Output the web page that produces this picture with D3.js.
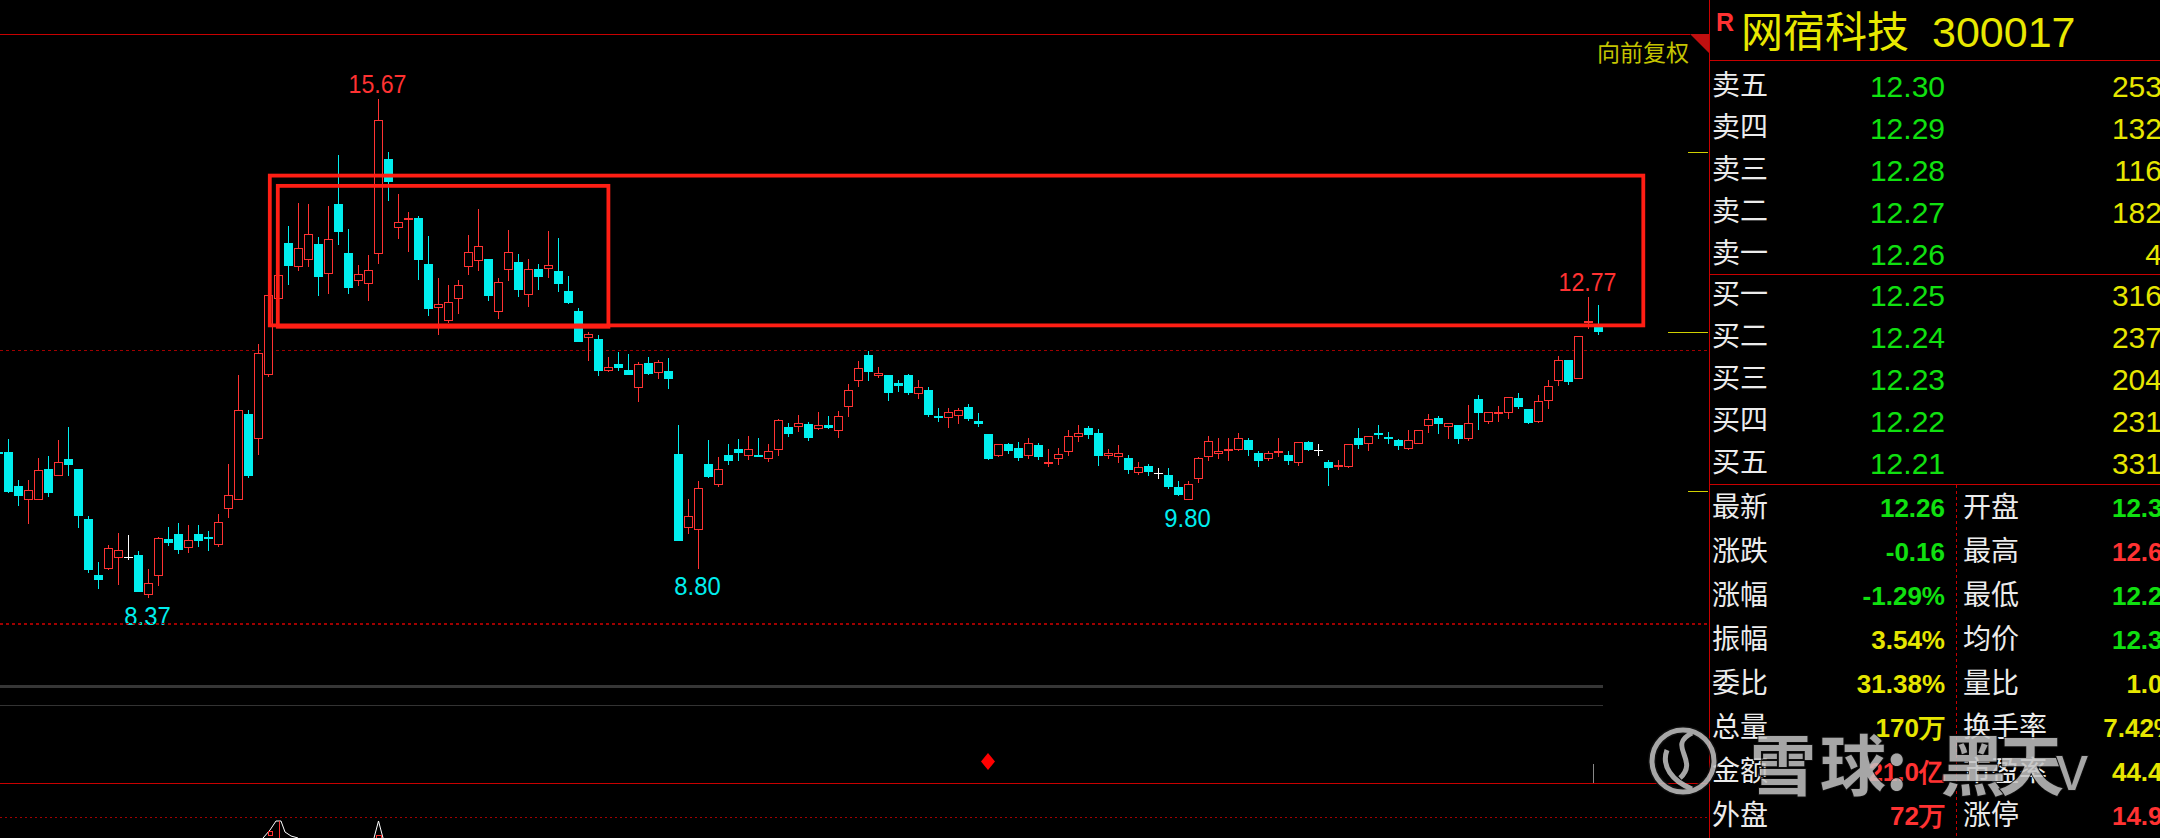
<!DOCTYPE html>
<html><head><meta charset="utf-8">
<script src="https://cdn.jsdelivr.net/npm/d3@7/dist/d3.min.js"></script>
<style>html,body{margin:0;padding:0;background:#000;overflow:hidden}</style>
</head><body>
<script>
// ---------- DATA ----------
const firstIndex = -1; // first (partially visible) candle index
const openP = [10.51,10.51,10.01,9.81,9.81,10.26,10.16,10.41,10.26,9.53,8.71,
8.80,8.96,8.97,9.00,8.42,8.70,9.24,9.31,9.10,9.31,
9.27,9.15,9.67,9.81,11.06,10.70,11.63,12.75,13.56,13.22,
13.31,13.55,13.11,14.13,13.42,13.01,12.96,13.41,14.79,13.78,
13.90,13.93,13.26,12.62,12.43,12.75,13.22,13.30,13.33,12.55,
13.17,13.28,12.80,13.18,13.18,13.15,12.87,12.57,12.17,12.16,
11.70,11.80,11.71,11.44,11.81,11.66,11.69,10.48,9.40,9.37,
10.33,10.02,10.47,10.55,10.45,10.47,10.41,10.54,10.87,10.88,
10.92,10.85,10.90,10.81,11.17,11.55,11.93,11.62,11.64,11.52,
11.64,11.36,11.42,11.04,11.01,11.04,11.17,10.96,10.77,10.45,
10.63,10.57,10.45,10.61,10.34,10.40,10.51,10.73,10.86,10.78,
10.45,10.44,10.42,10.20,10.30,10.20,10.17,10.00,9.81,10.12,
10.43,10.48,10.53,10.54,10.68,10.49,10.40,10.49,10.47,10.35,
10.65,10.54,10.36,10.29,10.29,10.71,10.62,10.79,10.73,10.68,
10.56,10.62,10.89,11.01,10.88,10.90,10.70,11.28,10.95,11.07,
11.08,11.30,11.14,10.95,11.26,11.55,11.85,11.58,12.39,12.37];
const highP = [10.53,10.70,10.10,10.10,10.42,10.45,10.68,10.87,10.26,9.57,8.90,
9.15,9.32,9.30,9.06,8.80,9.27,9.41,9.47,9.44,9.44,
9.35,9.60,10.33,11.63,11.12,12.09,12.83,13.20,13.81,14.15,
14.13,13.65,14.11,14.85,13.77,13.24,13.39,15.67,14.89,14.28,
14.02,13.96,13.67,13.05,12.95,13.02,13.68,14.06,13.33,13.05,
13.75,13.40,13.33,13.26,13.74,13.64,13.08,12.61,12.27,12.22,
11.90,11.97,11.94,11.83,11.90,11.85,11.88,10.90,9.82,10.09,
10.68,10.44,10.63,10.70,10.74,10.71,10.63,10.99,10.93,11.05,
10.95,11.09,11.04,11.11,11.50,11.84,11.99,11.75,11.64,11.56,
11.65,11.56,11.46,11.15,11.15,11.15,11.21,11.08,10.77,10.63,
10.64,10.66,10.71,10.64,10.55,10.57,10.83,10.90,10.89,10.85,
10.56,10.61,10.47,10.36,10.33,10.27,10.27,10.08,10.08,10.43,
10.75,10.71,10.71,10.78,10.71,10.52,10.53,10.71,10.52,10.65,
10.67,10.63,10.39,10.39,10.62,10.86,10.75,10.90,10.80,10.70,
10.83,10.83,11.06,11.04,10.93,10.90,11.20,11.34,11.09,11.18,
11.32,11.37,11.14,11.34,11.56,11.91,11.85,12.20,12.77,12.66];
const lowP = [10.47,9.91,9.72,9.46,9.81,9.85,10.16,10.16,9.40,8.74,8.51,
8.78,8.56,8.93,8.46,8.37,8.55,9.13,9.02,9.03,9.12,
9.06,9.12,9.54,9.81,10.13,10.47,11.60,12.73,12.95,13.15,
13.22,12.79,12.82,13.54,12.82,12.93,12.71,13.26,14.18,13.63,
13.44,13.03,12.50,12.22,12.39,12.53,13.10,13.15,12.72,12.46,
13.01,12.77,12.63,12.88,13.06,12.85,12.68,12.11,11.84,11.62,
11.68,11.70,11.63,11.24,11.64,11.58,11.43,9.21,9.31,8.80,
10.13,9.99,10.32,10.38,10.39,10.43,10.36,10.45,10.73,10.80,
10.67,10.83,10.85,10.71,11.02,11.46,11.55,11.59,11.26,11.39,
11.34,11.28,11.02,10.95,10.86,10.92,10.96,10.87,10.39,10.44,
10.48,10.38,10.41,10.39,10.29,10.32,10.45,10.66,10.70,10.31,
10.40,10.35,10.19,10.17,10.16,10.11,9.97,9.87,9.80,10.05,
10.38,10.41,10.38,10.53,10.45,10.29,10.38,10.43,10.32,10.31,
10.53,10.45,10.01,10.25,10.28,10.55,10.52,10.70,10.63,10.54,
10.54,10.62,10.78,10.77,10.70,10.62,10.67,10.83,10.92,10.95,
10.99,11.14,10.92,10.93,11.14,11.47,11.49,11.58,12.31,12.22];
const closeP = [10.49,9.92,9.87,9.96,10.24,9.91,10.36,10.32,9.57,8.78,8.64,
9.10,9.07,8.97,8.46,8.60,9.25,9.18,9.08,9.22,9.21,
9.24,9.48,9.88,11.12,10.16,11.95,12.80,13.09,13.23,13.49,
13.69,13.07,13.62,13.73,12.91,13.11,13.17,15.36,14.45,13.87,
13.93,13.31,12.60,12.67,12.70,12.95,13.43,13.52,12.79,12.99,
13.43,12.88,13.18,13.07,13.24,12.97,12.69,12.12,12.23,11.70,
11.75,11.74,11.64,11.79,11.65,11.82,11.58,9.21,9.57,9.98,
10.14,10.26,10.38,10.50,10.55,10.43,10.53,10.97,10.77,10.93,
10.71,10.90,10.86,11.03,11.41,11.73,11.68,11.66,11.37,11.47,
11.37,11.46,11.05,11.01,11.09,11.12,10.99,10.92,10.41,10.63,
10.52,10.42,10.64,10.43,10.36,10.48,10.75,10.78,10.76,10.45,
10.49,10.49,10.24,10.29,10.21,10.20,10.00,9.88,10.04,10.42,
10.67,10.53,10.55,10.72,10.54,10.38,10.49,10.53,10.38,10.65,
10.54,10.54,10.28,10.32,10.62,10.61,10.75,10.76,10.70,10.60,
10.68,10.83,10.99,10.92,10.93,10.70,10.93,11.08,11.09,11.09,
11.32,11.17,10.93,11.25,11.48,11.85,11.53,12.20,12.42,12.26];

// extreme labels
const markText = ["15.67","8.37","8.80","9.80","12.77"];
const markIndex = [37,14,69,118,158];
const markKind = ["high","low","low","low","high"];

// highlighted ranges (candle index range, price range)
const boxI0 = [26.13, 26.93];
const boxI1 = [163.48, 59.99];
const boxPTop = [14.55, 14.40];
const boxPBot = [12.36, 12.34];

const gridPrices = [12.0, 8.0];
const tickPrices = [14.90, 12.26, 9.94]; // limit-up, last, limit-down
const tickKinds = ["short","long","short"];
const signalIndex = [98];

// quote panel
const stockName = "网宿科技";
const stockCode = "300017";
const bookLabels = ["卖五","卖四","卖三","卖二","卖一","买一","买二","买三","买四","买五"];
const bookPrices = ["12.30","12.29","12.28","12.27","12.26","12.25","12.24","12.23","12.22","12.21"];
const bookVols = ["253","132","116","182","4","316","237","204","231","331"];
const statLabelsL = ["最新","涨跌","涨幅","振幅","委比","总量","金额","外盘"];
const statValuesL = ["12.26","-0.16","-1.29%","3.54%","31.38%","170万","21.0亿","72万"];
const statColorsL = ["g","g","g","y","y","y","r","r"];
const statLabelsR = ["开盘","最高","最低","均价","量比","换手率","市盈率","涨停"];
const statValuesR = ["12.36","12.66","12.22","12.38","1.03","7.42%","44.46","14.90"];
const statColorsR = ["g","r","g","g","y","y","y","r"];
const watermarkChars = ["雪","球",":","黑","天","v"];

// ---------- DRAW ----------
const W = 2160, H = 838;
const RED = "#ff3232", CYAN = "#00eeee", WHITE = "#ffffff";
const BOX = "#ff1e14", DARKRED = "#c80000", DASH = "#a00000";
const GREEN = "#10e010", YEL = "#e6e600";
const colorMap = {g: GREEN, y: YEL, r: RED};
const NUM = "'Liberation Sans', Arial, sans-serif";
const CJK = "'Noto Sans CJK SC', sans-serif";

const svg = d3.select("body").append("svg")
  .attr("width", W).attr("height", H).style("display","block").style("background","#000");

const x = d3.scaleLinear().domain([0, 159]).range([8.5, 1598.5]);
const y = d3.scaleLinear().domain([8.37, 15.67]).range([598.3, 99]);

const candles = openP.map((o, k) => ({i: k + firstIndex, o, h: highP[k], l: lowP[k], c: closeP[k]}));

// frame lines
svg.append("line").attr("x1",0).attr("x2",1690).attr("y1",34.5).attr("y2",34.5).attr("stroke",DARKRED).attr("stroke-width",1);
svg.append("path").attr("d","M1690,34 L1709,34 L1709,53 Z").attr("fill","#c01010");
svg.append("line").attr("x1",1709.5).attr("x2",1709.5).attr("y1",0).attr("y2",H).attr("stroke",DARKRED);
svg.append("text").attr("x",1597).attr("y",61).attr("font-family",CJK).attr("font-size",23).attr("fill","#c4c400").text("向前复权");

// dashed grid lines
svg.selectAll(".grid").data(gridPrices).enter().append("line")
  .attr("x1",0).attr("x2",1709).attr("y1",d=>Math.round(y(d))+0.5).attr("y2",d=>Math.round(y(d))+0.5)
  .attr("stroke",DASH).attr("stroke-dasharray","3,3");

// yellow price ticks at right edge
svg.selectAll(".tick").data(tickPrices).enter().append("line")
  .attr("x1",(d,k)=>tickKinds[k]==="long"?1668:1688).attr("x2",1708)
  .attr("y1",d=>Math.round(y(d))+0.5).attr("y2",d=>Math.round(y(d))+0.5)
  .attr("stroke","#d0d000");

// candles
const g = svg.append("g");
candles.forEach(d => {
  const cx = x(d.i);
  const up = d.c > d.o, down = d.c < d.o;
  const col = up ? RED : (down ? CYAN : WHITE);
  const top = y(Math.max(d.o, d.c)), bot = y(Math.min(d.o, d.c));
  const yh = y(d.h), yl = y(d.l);
  if (yh < top) g.append("line").attr("x1",cx).attr("x2",cx).attr("y1",Math.round(yh)).attr("y2",Math.round(top)).attr("stroke",col);
  if (yl > bot) g.append("line").attr("x1",cx).attr("x2",cx).attr("y1",Math.round(bot)).attr("y2",Math.round(yl)).attr("stroke",col);
  if (up) {
    const t = Math.round(top), b = Math.round(bot);
    g.append("rect").attr("x",cx-4).attr("y",t+0.5).attr("width",8).attr("height",Math.max(b-t-1,0.5))
      .attr("fill","#000").attr("stroke",RED).attr("stroke-width",1);
  } else if (down) {
    const t = Math.round(top), b = Math.round(bot);
    g.append("rect").attr("x",cx-4.5).attr("y",t).attr("width",9).attr("height",Math.max(b-t,2)).attr("fill",CYAN);
  } else {
    g.append("line").attr("x1",cx-4.5).attr("x2",cx+4.5).attr("y1",Math.round(top)+0.5).attr("y2",Math.round(top)+0.5).attr("stroke",WHITE);
  }
});

// boxes
boxI0.forEach((i0,k) => {
  svg.append("rect").attr("x",x(i0)).attr("y",y(boxPTop[k]))
    .attr("width",x(boxI1[k])-x(i0)).attr("height",y(boxPBot[k])-y(boxPTop[k]))
    .attr("fill","none").attr("stroke",BOX).attr("stroke-width",3.8);
});

// extreme labels
markText.forEach((t,k) => {
  const i = markIndex[k];
  const hi = markKind[k] === "high";
  const d = candles[i - firstIndex];
  svg.append("text").attr("x",x(i)-1).attr("y",hi ? y(d.h)-6.5 : y(d.l)+26.5)
    .attr("text-anchor","middle").attr("font-family",NUM).attr("font-size",26)
    .attr("textLength", t.length*11.6).attr("lengthAdjust","spacingAndGlyphs")
    .attr("fill", hi ? RED : CYAN).text(t);
});

// lower panels (layout)
svg.append("line").attr("x1",0).attr("x2",1709).attr("y1",623.5).attr("y2",623.5).attr("stroke",DASH).attr("stroke-dasharray","3,3");
svg.append("rect").attr("x",0).attr("y",685).attr("width",1603).attr("height",3).attr("fill","#363636");
svg.append("rect").attr("x",0).attr("y",705).attr("width",1603).attr("height",1).attr("fill","#333");
signalIndex.forEach(i => {
  const cx = x(i) - 0.5;
  svg.append("path").attr("d",`M${cx},753 L${cx+7},761.5 L${cx},770 L${cx-7},761.5 Z`).attr("fill","#ff0000");
});
svg.append("line").attr("x1",1593.5).attr("x2",1593.5).attr("y1",764).attr("y2",783).attr("stroke","#888");
svg.append("line").attr("x1",0).attr("x2",1709).attr("y1",783.5).attr("y2",783.5).attr("stroke",DARKRED);
svg.append("line").attr("x1",0).attr("x2",1709).attr("y1",817.5).attr("y2",817.5).attr("stroke",DASH).attr("stroke-dasharray","2,3");
// tiny indicator at bottom
svg.append("path").attr("d","M263,838 L270,830 L276,821 L281,821 L285,832 L291,836 L298,838").attr("fill","none").attr("stroke","#fff");
svg.append("line").attr("x1",279.5).attr("x2",279.5).attr("y1",821).attr("y2",838).attr("stroke",RED);
svg.append("rect").attr("x",268.5).attr("y",831.5).attr("width",4).attr("height",4).attr("fill","none").attr("stroke",RED);
svg.append("path").attr("d","M374,838 L378.5,821 L383,838").attr("fill","none").attr("stroke","#fff");
svg.append("rect").attr("x",376.5).attr("y",835.5).attr("width",5).attr("height",3).attr("fill","none").attr("stroke",RED);

// ---------- quote panel ----------
const P = svg.append("g");
P.append("text").attr("x",1716).attr("y",31).attr("font-family",NUM).attr("font-weight","bold").attr("font-size",25).attr("fill",RED).text("R");
P.append("text").attr("x",1741).attr("y",47).attr("font-family",CJK).attr("font-size",42).attr("fill","#e8e800").text(stockName);
P.append("text").attr("x",1932).attr("y",47).attr("font-family",NUM).attr("font-size",43).attr("fill","#e8e800").text(stockCode);
[60.5, 274.5, 484.5].forEach(v => P.append("line").attr("x1",1709).attr("x2",W).attr("y1",v).attr("y2",v).attr("stroke",DARKRED));
P.append("line").attr("x1",1956.5).attr("x2",1956.5).attr("y1",485).attr("y2",H).attr("stroke",DARKRED).attr("stroke-dasharray","3,3");

bookLabels.forEach((lab,k) => {
  const base = k < 5 ? 97 + 42*k : 306 + 42*(k-5);
  P.append("text").attr("x",1712).attr("y",base-2).attr("font-family",CJK).attr("font-size",28).attr("fill","#ececec").text(lab);
  P.append("text").attr("x",1945).attr("y",base).attr("text-anchor","end").attr("font-family",NUM).attr("font-size",30).attr("fill",GREEN).text(bookPrices[k]);
  P.append("text").attr("x",2162).attr("y",base).attr("text-anchor","end").attr("font-family",NUM).attr("font-size",30).attr("fill",YEL).text(bookVols[k]);
});

statLabelsL.forEach((lab,k) => {
  const base = 517 + 44*k;
  P.append("text").attr("x",1712).attr("y",base).attr("font-family",CJK).attr("font-size",28).attr("fill","#ececec").text(lab);
  P.append("text").attr("x",1945).attr("y",base).attr("text-anchor","end").attr("font-family",NUM).attr("font-weight","bold").attr("font-size",26).attr("fill",colorMap[statColorsL[k]]).text(statValuesL[k]);
  P.append("text").attr("x",1963).attr("y",base).attr("font-family",CJK).attr("font-size",28).attr("fill","#ececec").text(statLabelsR[k]);
  P.append("text").attr("x",2177).attr("y",base).attr("text-anchor","end").attr("font-family",NUM).attr("font-weight","bold").attr("font-size",26).attr("fill",colorMap[statColorsR[k]]).text(statValuesR[k]);
});

// watermark
const WM = svg.append("g").attr("opacity",0.85);
const WMC = "#c4c4c4";
WM.append("circle").attr("cx",1683).attr("cy",761).attr("r",31).attr("fill","none").attr("stroke","#111").attr("stroke-width",8);
WM.append("circle").attr("cx",1683).attr("cy",761).attr("r",31).attr("fill","none").attr("stroke",WMC).attr("stroke-width",5);
WM.append("path").attr("d","M1692,733 C1666,746 1700,760 1680,778 M1667,750 C1661,766 1672,781 1692,789").attr("fill","none").attr("stroke",WMC).attr("stroke-width",5);
const wmX = [1750, 1820, 1886, 1940, 1998, 2056];
watermarkChars.forEach((ch,k) => {
  WM.append("text").attr("x",wmX[k]).attr("y",790)
    .attr("font-family", ch === "v" ? NUM : CJK).attr("font-weight", ch === "v" ? "normal" : "bold")
    .attr("font-size", ch === "v" ? 64 : 66)
    .attr("fill",WMC).attr("stroke","#111").attr("stroke-width",2).attr("paint-order","stroke")
    .text(ch);
});
</script>
</body></html>
